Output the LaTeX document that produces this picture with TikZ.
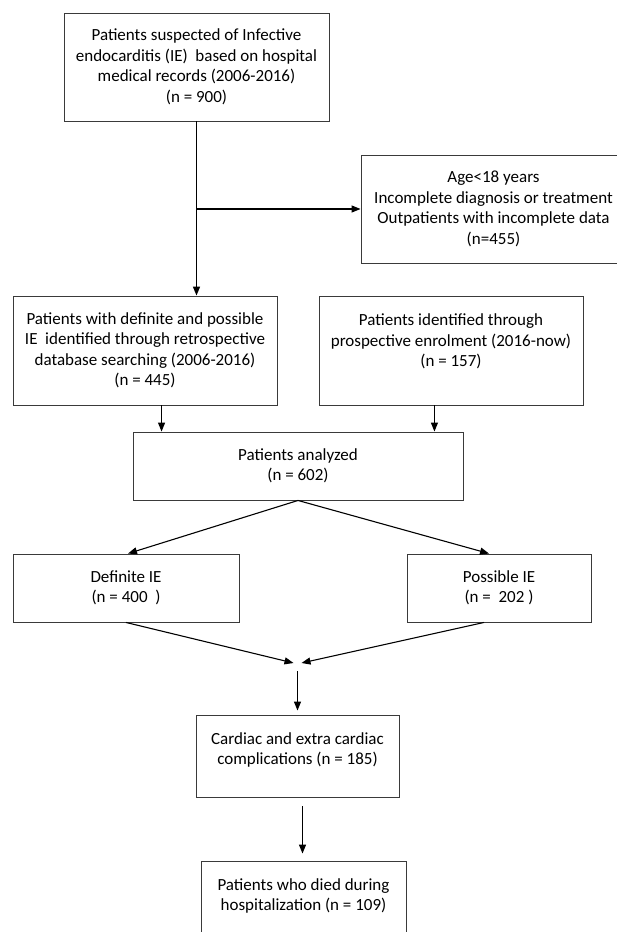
\documentclass[tikz,border=0pt]{standalone}
\usepackage{fontspec}
\setmainfont{Carlito}
\usepackage{tikz}
\usetikzlibrary{positioning,arrows.meta}
\definecolor{boxline}{HTML}{3A3A3A}
\tikzset{
  flowbox/.style={rectangle, draw=boxline, line width=0.9pt, align=center, inner sep=0pt,
                  font=\fontsize{17}{20.5}\selectfont},
  fwd/.style={-{Triangle[length=9pt,width=7pt]}, line width=1.1pt},
  fwdthick/.style={fwd, line width=1.6pt},
}

\begin{document}
\begin{tikzpicture}[x=1pt,y=-1pt]
\useasboundingbox (0,0) rectangle (616,932);

%Nodes
\node[flowbox, minimum width=265pt, minimum height=108pt] (suspected) at (196.5,67)
  {Patients suspected of Infective\\endocarditis (IE)\ \ based on hospital\\medical records (2006-2016)\\(n = 900)};
\node[flowbox, minimum width=265pt, minimum height=108pt] (excluded) at (493.5,209)
  {Age<18 years\\Incomplete diagnosis or treatment\\Outpatients with incomplete data\\(n=455)};
\node[flowbox, minimum width=264pt, minimum height=109pt] (retro) at (145,350.5)
  {Patients with definite and possible\\IE\ \ identified through retrospective\\database searching (2006-2016)\\(n = 445)};
\node[flowbox, minimum width=264pt, minimum height=109pt] (prosp) at (451,350.5)
  {Patients identified through\\prospective enrolment (2016-now)\\(n = 157)\\\mbox{}};
\node[flowbox, minimum width=330pt, minimum height=68pt] (analyzed) at (298,466)
  {Patients analyzed\\(n = 602)};
\node[flowbox, minimum width=226pt, minimum height=68pt] (definite) at (126,588)
  {Definite IE\\(n = 400\ \ )};
\node[flowbox, minimum width=184pt, minimum height=68pt] (possible) at (499,588)
  {Possible IE\\(n =\ \ 202 )};
\node[flowbox, minimum width=203pt, minimum height=82pt] (cardiac) at (297.5,756)
  {Cardiac and extra cardiac\\complications (n = 185)\\[-6pt]\mbox{}};
\node[flowbox, minimum width=205pt, minimum height=82pt] (died) at (303.5,902)
  {Patients who died during\\hospitalization (n = 109)\\[-6pt]\mbox{}};
\coordinate (merge) at (297.5,663);
\coordinate (downlink) at ([xshift=5pt]cardiac.south);

%Lines
\draw[fwdthick] (suspected.south) -- (suspected.south |- retro.north);
\draw[fwd] (suspected.south |- excluded.west) -- (excluded.west);
\draw[fwd] ([xshift=29pt]analyzed.north west |- retro.south) -- ([xshift=29pt]analyzed.north west);
\draw[fwd] ([xshift=-29pt]analyzed.north east |- prosp.south) -- ([xshift=-29pt]analyzed.north east);
\draw[fwd] (analyzed.south) -- ([xshift=2pt]definite.north);
\draw[fwd] (analyzed.south) -- ([xshift=-10pt]possible.north);
\draw[fwd] (definite.south) -- ([xshift=-4pt]merge);
\draw[fwd] ([xshift=-15pt]possible.south) -- ([xshift=4pt]merge);
\draw[fwd] ([yshift=-8pt]merge) -- ([yshift=4pt]cardiac.north);
\draw[fwd] ([yshift=-9pt]downlink) -- ([yshift=7pt]downlink |- died.north);
\end{tikzpicture}
\end{document}
